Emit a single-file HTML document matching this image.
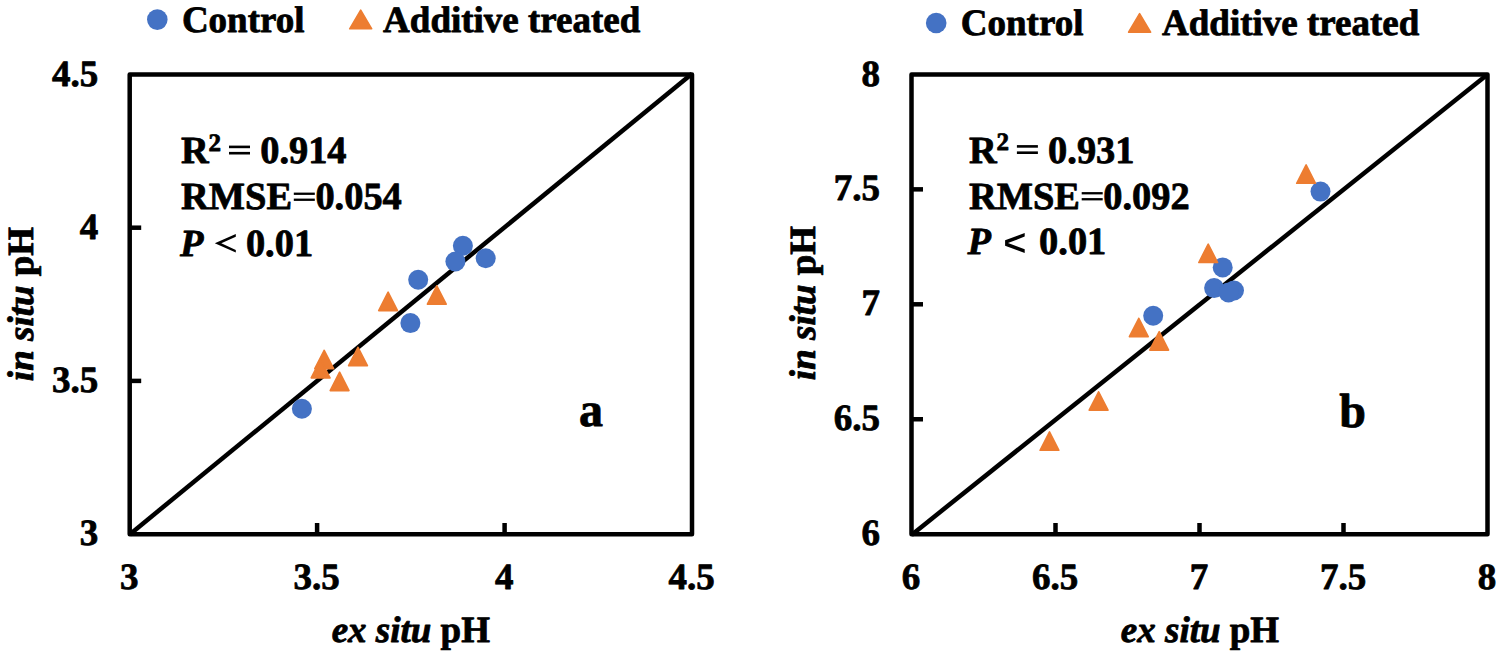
<!DOCTYPE html>
<html><head><meta charset="utf-8"><style>
html,body{margin:0;padding:0;background:#fff;width:1499px;height:656px;overflow:hidden;}
svg{display:block;}
text{font-family:"Liberation Serif", serif;font-weight:bold;fill:#000;stroke:#000;stroke-width:0.8px;stroke-linejoin:round;text-rendering:geometricPrecision;}
</style></head><body>
<svg width="1499" height="656" viewBox="0 0 1499 656">
<rect x="0" y="0" width="1499" height="656" fill="#fff"/>
<g>
<circle cx="157.3" cy="19.6" r="10.3" fill="#4472C4"/>
<text x="181.9" y="31.7" font-size="37">Control</text>
<g fill="#ED7D31" stroke="#ED7D31" stroke-width="1.6" stroke-linejoin="round"><polygon points="349.70,28.80 371.70,28.80 360.70,10.20"/></g>
<text x="383.1" y="31.7" font-size="37">Additive treated</text>
<g font-size="37" text-anchor="end">
<text x="98.2" y="85.6">4.5</text>
<text x="98.2" y="238.8">4</text>
<text x="98.2" y="392.0">3.5</text>
<text x="98.2" y="545.3">3</text>
</g>
<g font-size="37" text-anchor="middle">
<text x="129.3" y="589.2">3</text>
<text x="316.7" y="589.2">3.5</text>
<text x="504.2" y="589.2">4</text>
<text x="691.6" y="589.2">4.5</text>
</g>
<text x="410.8" y="642.1" font-size="37" text-anchor="middle"><tspan font-style="italic">ex situ</tspan> pH</text>
<text transform="translate(33.2,304) rotate(-90)" font-size="37" text-anchor="middle"><tspan font-style="italic">in situ</tspan> pH</text>
<g stroke="#000" stroke-width="4.5" fill="none">
<rect x="129.7" y="74.5" width="562.3" height="459.7" stroke-linejoin="round"/>
<line x1="129.7" y1="227.70" x2="141.2" y2="227.70"/>
<line x1="129.7" y1="380.90" x2="141.2" y2="380.90"/>
<line x1="317.10" y1="534.2" x2="317.10" y2="523.0"/>
<line x1="504.60" y1="534.2" x2="504.60" y2="523.0"/>
<line x1="129.7" y1="534.4" x2="692.0" y2="73.8" stroke-linecap="butt"/>
</g>
<g font-size="38.4">
<text x="181.1" y="163.2">R</text>
<text x="208.6" y="150.8" font-size="25">2</text>
<rect x="229.0" y="145.6" width="21" height="2.6" fill="#000"/>
<rect x="229.0" y="151.9" width="21" height="2.6" fill="#000"/>
<text x="260.2" y="163.2">0.914</text>
<text x="181.1" y="209.2">RMSE</text>
<rect x="293.8" y="192.6" width="21" height="2.3" fill="#000"/>
<rect x="293.8" y="198.6" width="21" height="2.3" fill="#000"/>
<text x="315.4" y="209.2">0.054</text>
<text x="180.1" y="256.2" font-style="italic">P</text>
<polygon fill="#000" points="235.8,233.9 214.8,243.3 235.8,252.5 235.8,249.9 221.3,243.2 235.8,236.7"/>
<text x="245.9" y="256.2">0.01</text>
</g>
<text x="578.9" y="426" font-size="48">a</text>
<g fill="#4472C4">
<circle cx="462.9" cy="245.7" r="10"/>
<circle cx="455.4" cy="261.5" r="10"/>
<circle cx="485.7" cy="258.3" r="10"/>
<circle cx="418.2" cy="279.8" r="10"/>
<circle cx="410.4" cy="323.1" r="10"/>
<circle cx="301.9" cy="408.7" r="10"/>
</g>
<g fill="#ED7D31" stroke="#ED7D31" stroke-width="1.6" stroke-linejoin="round">
<polygon points="427.40,304.20 446.20,304.20 436.80,285.80"/>
<polygon points="378.70,310.60 397.50,310.60 388.10,292.20"/>
<polygon points="348.60,365.70 367.40,365.70 358.00,347.30"/>
<polygon points="314.80,368.70 333.60,368.70 324.20,350.30"/>
<polygon points="311.20,377.90 330.00,377.90 320.60,359.50"/>
<polygon points="330.20,390.60 349.00,390.60 339.60,372.20"/>
</g>
</g>
<g>
<circle cx="936.2" cy="23.0" r="10.3" fill="#4472C4"/>
<text x="960.8" y="35.1" font-size="37">Control</text>
<g fill="#ED7D31" stroke="#ED7D31" stroke-width="1.6" stroke-linejoin="round"><polygon points="1128.60,32.20 1150.60,32.20 1139.60,13.60"/></g>
<text x="1162.0" y="35.1" font-size="37">Additive treated</text>
<g font-size="37" text-anchor="end">
<text x="880.0" y="85.5">8</text>
<text x="880.0" y="200.4">7.5</text>
<text x="880.0" y="315.4">7</text>
<text x="880.0" y="430.4">6.5</text>
<text x="880.0" y="545.3">6</text>
</g>
<g font-size="37" text-anchor="middle">
<text x="911.1" y="589.2">6</text>
<text x="1055.1" y="589.2">6.5</text>
<text x="1199.1" y="589.2">7</text>
<text x="1343.1" y="589.2">7.5</text>
<text x="1487.1" y="589.2">8</text>
</g>
<text x="1200" y="642.1" font-size="37" text-anchor="middle"><tspan font-style="italic">ex situ</tspan> pH</text>
<text transform="translate(815.4,303) rotate(-90)" font-size="37" text-anchor="middle"><tspan font-style="italic">in situ</tspan> pH</text>
<g stroke="#000" stroke-width="4.5" fill="none">
<rect x="911.5" y="74.4" width="576.0" height="459.8" stroke-linejoin="round"/>
<line x1="911.5" y1="189.35" x2="923.0" y2="189.35"/>
<line x1="911.5" y1="304.30" x2="923.0" y2="304.30"/>
<line x1="911.5" y1="419.25" x2="923.0" y2="419.25"/>
<line x1="1055.50" y1="534.2" x2="1055.50" y2="523.0"/>
<line x1="1199.50" y1="534.2" x2="1199.50" y2="523.0"/>
<line x1="1343.50" y1="534.2" x2="1343.50" y2="523.0"/>
<line x1="911.5" y1="534.9" x2="1487.5" y2="74.4" stroke-linecap="butt"/>
</g>
<g font-size="38.4">
<text x="969.0" y="162.7">R</text>
<text x="996.5" y="150.3" font-size="25">2</text>
<rect x="1016.9" y="145.1" width="21" height="2.6" fill="#000"/>
<rect x="1016.9" y="151.4" width="21" height="2.6" fill="#000"/>
<text x="1048.1" y="162.7">0.931</text>
<text x="969.0" y="208.7">RMSE</text>
<rect x="1081.7" y="192.1" width="21" height="2.3" fill="#000"/>
<rect x="1081.7" y="198.1" width="21" height="2.3" fill="#000"/>
<text x="1103.3" y="208.7">0.092</text>
<text x="967.5" y="254.4" font-style="italic">P</text>
<polygon fill="#000" points="1024.7,233 1005.1,240.3 1005.1,245.8 1024.7,252.9 1024.7,249.3 1008,243.05 1024.7,236.6"/>
<text x="1039.1" y="254.4">0.01</text>
</g>
<text x="1339.2" y="427.0" font-size="48">b</text>
<g fill="#4472C4">
<circle cx="1153.2" cy="315.7" r="10"/>
<circle cx="1222.7" cy="267.4" r="10"/>
<circle cx="1214.1" cy="288.1" r="10"/>
<circle cx="1234.0" cy="290.5" r="10"/>
<circle cx="1228.5" cy="292.5" r="10"/>
<circle cx="1320.5" cy="191.6" r="10"/>
</g>
<g fill="#ED7D31" stroke="#ED7D31" stroke-width="1.6" stroke-linejoin="round">
<polygon points="1198.80,262.50 1217.60,262.50 1208.20,244.10"/>
<polygon points="1296.70,183.30 1315.50,183.30 1306.10,164.90"/>
<polygon points="1129.40,336.70 1148.20,336.70 1138.80,318.30"/>
<polygon points="1149.80,350.10 1168.60,350.10 1159.20,331.70"/>
<polygon points="1089.20,410.20 1108.00,410.20 1098.60,391.80"/>
<polygon points="1040.10,450.30 1058.90,450.30 1049.50,431.90"/>
</g>
</g>
</svg></body></html>
